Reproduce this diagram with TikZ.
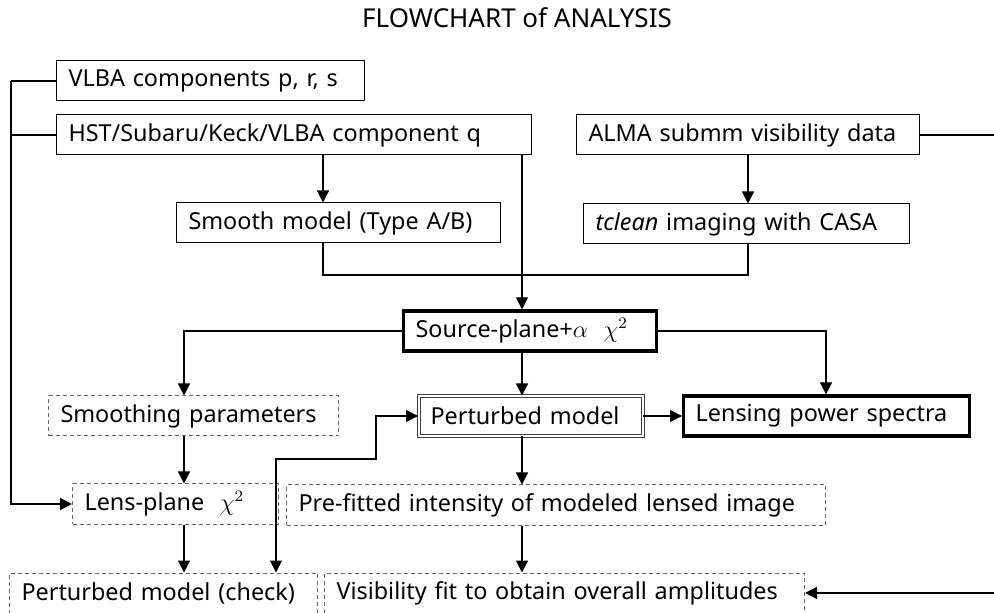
\documentclass[tikz,border=0pt]{standalone}
\usepackage{fontspec}
\setmainfont{Noto Sans}
\usetikzlibrary{arrows.meta}

\begin{document}
\begin{tikzpicture}[x=0.5pt, y=-0.5pt,
    font=\fontsize{11.7}{14}\selectfont,
    box/.style={draw, line width=0.5pt, minimum height=20pt, inner xsep=6pt, inner ysep=2pt,
        align=left, anchor=west},
    dbox/.style={box, draw=black!60, dash pattern=on 2pt off 1.5pt},
    tbox/.style={box, line width=1.6pt},
    wbox/.style={box, draw=black!75, double, double distance=1pt},
    arr/.style={-{Triangle[length=6pt,width=6pt]}, line width=0.6pt},
    line/.style={line width=0.6pt}]
    \useasboundingbox (0,0) rectangle (994,613);

    \node[font=\fontsize{13}{16}\selectfont] (title) at (517,18) {FLOWCHART of ANALYSIS};

    % Inputs
    \node[box, text width=142pt] (vlba) at (56,81) {VLBA components p, r, s};
    \node[box, text width=225.5pt] (hst) at (56,135) {HST/Subaru/Keck/VLBA component q};
    \node[box, text width=159.5pt] (alma) at (576,135) {ALMA submm visibility data};
    \node[box, text width=150pt] (smooth) at (176,223) {Smooth model (Type A/B)};
    \node[box, text width=151pt] (tclean) at (583,224) {\textit{tclean} imaging with CASA};

    % Fitting
    \node[tbox, text width=114.5pt] (source) at (402,331) {Source-plane+$\alpha$\ \ $\chi^2$};
    \node[dbox, text width=133pt] (smpar) at (48,416) {Smoothing parameters};
    \node[wbox, text width=100pt] (pert) at (418,416) {Perturbed model};
    \node[tbox, text width=131pt] (power) at (682,416) {Lensing power spectra};
    \node[dbox, text width=91pt] (lens) at (72,504) {Lens-plane\ \ $\chi^2$};
    \node[dbox, text width=257.5pt] (prefit) at (286,505) {Pre-fitted intensity of modeled lensed image};
    \node[dbox, text width=142pt] (check) at (9,593) {Perturbed model (check)};
    \node[dbox, text width=228pt] (visfit) at (324,593) {Visibility fit to obtain overall amplitudes};

    % Helper columns and rows
    \coordinate (bus) at (11,81);
    \coordinate (colL) at (184,0);
    \coordinate (colM) at (323,0);
    \coordinate (spine) at (522,0);
    \coordinate (colR) at (748,0);
    \coordinate (dropR) at (826,0);
    \coordinate (joinY) at (0,275);
    \coordinate (loop) at (376,459);
    \coordinate (loopX) at (276,0);
    \coordinate (rimR) at (994,0);

    % Connectors
    \draw[line] (vlba.west) -- (bus);
    \draw[line] (hst.west) -- (bus |- hst.west);
    \draw[arr] (bus) |- (lens.west);
    \draw[arr] (colM |- hst.south) -- (colM |- smooth.north);
    \draw[arr] (spine |- hst.south) -- (spine |- source.north);
    \draw[arr] (colR |- alma.south) -- (colR |- tclean.north);
    \draw[line] (alma.east) -- (rimR |- alma.east);
    \draw[line] (colM |- smooth.south) |- (colR |- joinY) -- (colR |- tclean.south);
    \draw[arr] (source.west) -| (colL |- smpar.north);
    \draw[arr] (spine |- source.south) -- (spine |- pert.north);
    \draw[arr] (source.east) -| (dropR |- power.north);
    \draw[arr] (pert) -- (power);
    \draw[arr] (colL |- smpar.south) -- (colL |- lens.north);
    \draw[arr] (colL |- lens.south) -- (colL |- check.north);
    \draw[{Triangle[length=6pt,width=6pt]}-{Triangle[length=6pt,width=6pt]}, line width=0.6pt]
        (pert.west) -| (loop) -| (loopX |- check.north);
    \draw[arr] (spine |- pert.south) -- (spine |- prefit.north);
    \draw[arr] (spine |- prefit.south) -- (spine |- visfit.north);
    \draw[arr] (rimR |- visfit.east) -- (visfit.east);
\end{tikzpicture}
\end{document}
